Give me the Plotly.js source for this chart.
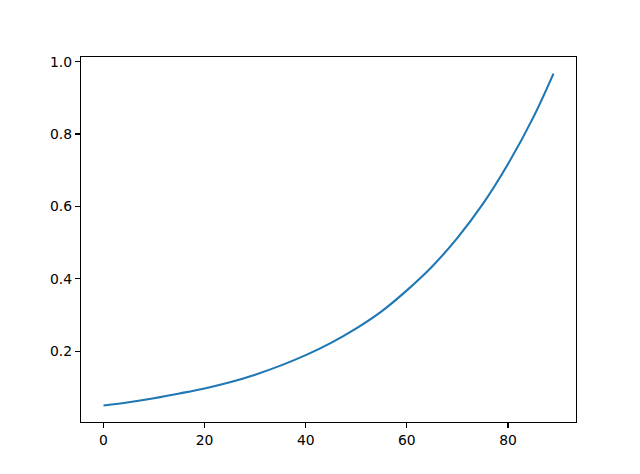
<!DOCTYPE html>
<html>
<head>
<meta charset="utf-8">
<script src="https://cdn.plot.ly/plotly-3.0.1.min.js"></script>
<style>
  html, body { margin: 0; padding: 0; background: #fff; }
  #chart { width: 640px; height: 474px; }
</style>
</head>
<body>
<div id="chart"></div>
<script>
// values
var steps = [0, 5, 10, 15, 20, 25, 30, 35, 40, 45, 50, 55, 60, 65, 70, 75, 80, 85, 89];
var values = [0.050, 0.059, 0.070, 0.083, 0.097, 0.114, 0.135, 0.160, 0.189, 0.223,
              0.263, 0.310, 0.368, 0.434, 0.513, 0.606, 0.717, 0.846, 0.967];
var xticks = [0, 20, 40, 60, 80];
var yticks = [0.2, 0.4, 0.6, 0.8, 1.0];

var trace = {
  x: steps,
  y: values,
  type: 'scatter',
  mode: 'lines',
  line: { color: '#1f77b4', width: 2.1, shape: 'spline', smoothing: 1 },
  hoverinfo: 'x+y',
};

var axis_style = {
  showline: true,
  mirror: true,
  linecolor: 'black',
  linewidth: 1.1,
  showgrid: false,
  zeroline: false,
  ticks: 'outside',
  ticklen: 5,
  tickwidth: 1.1,
  tickcolor: 'black',
  tickfont: { family: 'DejaVu Sans', size: 13.9, color: 'black' },
  fixedrange: true,
};

var layout = {
  width: 640,
  height: 474,
  margin: { l: 81, r: 64, t: 57, b: 52 },
  paper_bgcolor: 'white',
  plot_bgcolor: 'white',
  showlegend: false,
  xaxis: Object.assign({}, axis_style, {
    range: [-4.45, 93.45],
    tickmode: 'array',
    tickvals: xticks,
  }),
  yaxis: Object.assign({}, axis_style, {
    range: [0.0042, 1.0128],
    tickmode: 'array',
    tickvals: yticks,
    ticktext: yticks.map(function (v) { return v.toFixed(1); }),
  }),
};

Plotly.newPlot('chart', [trace], layout, { displayModeBar: false, staticPlot: true });
</script>
</body>
</html>
